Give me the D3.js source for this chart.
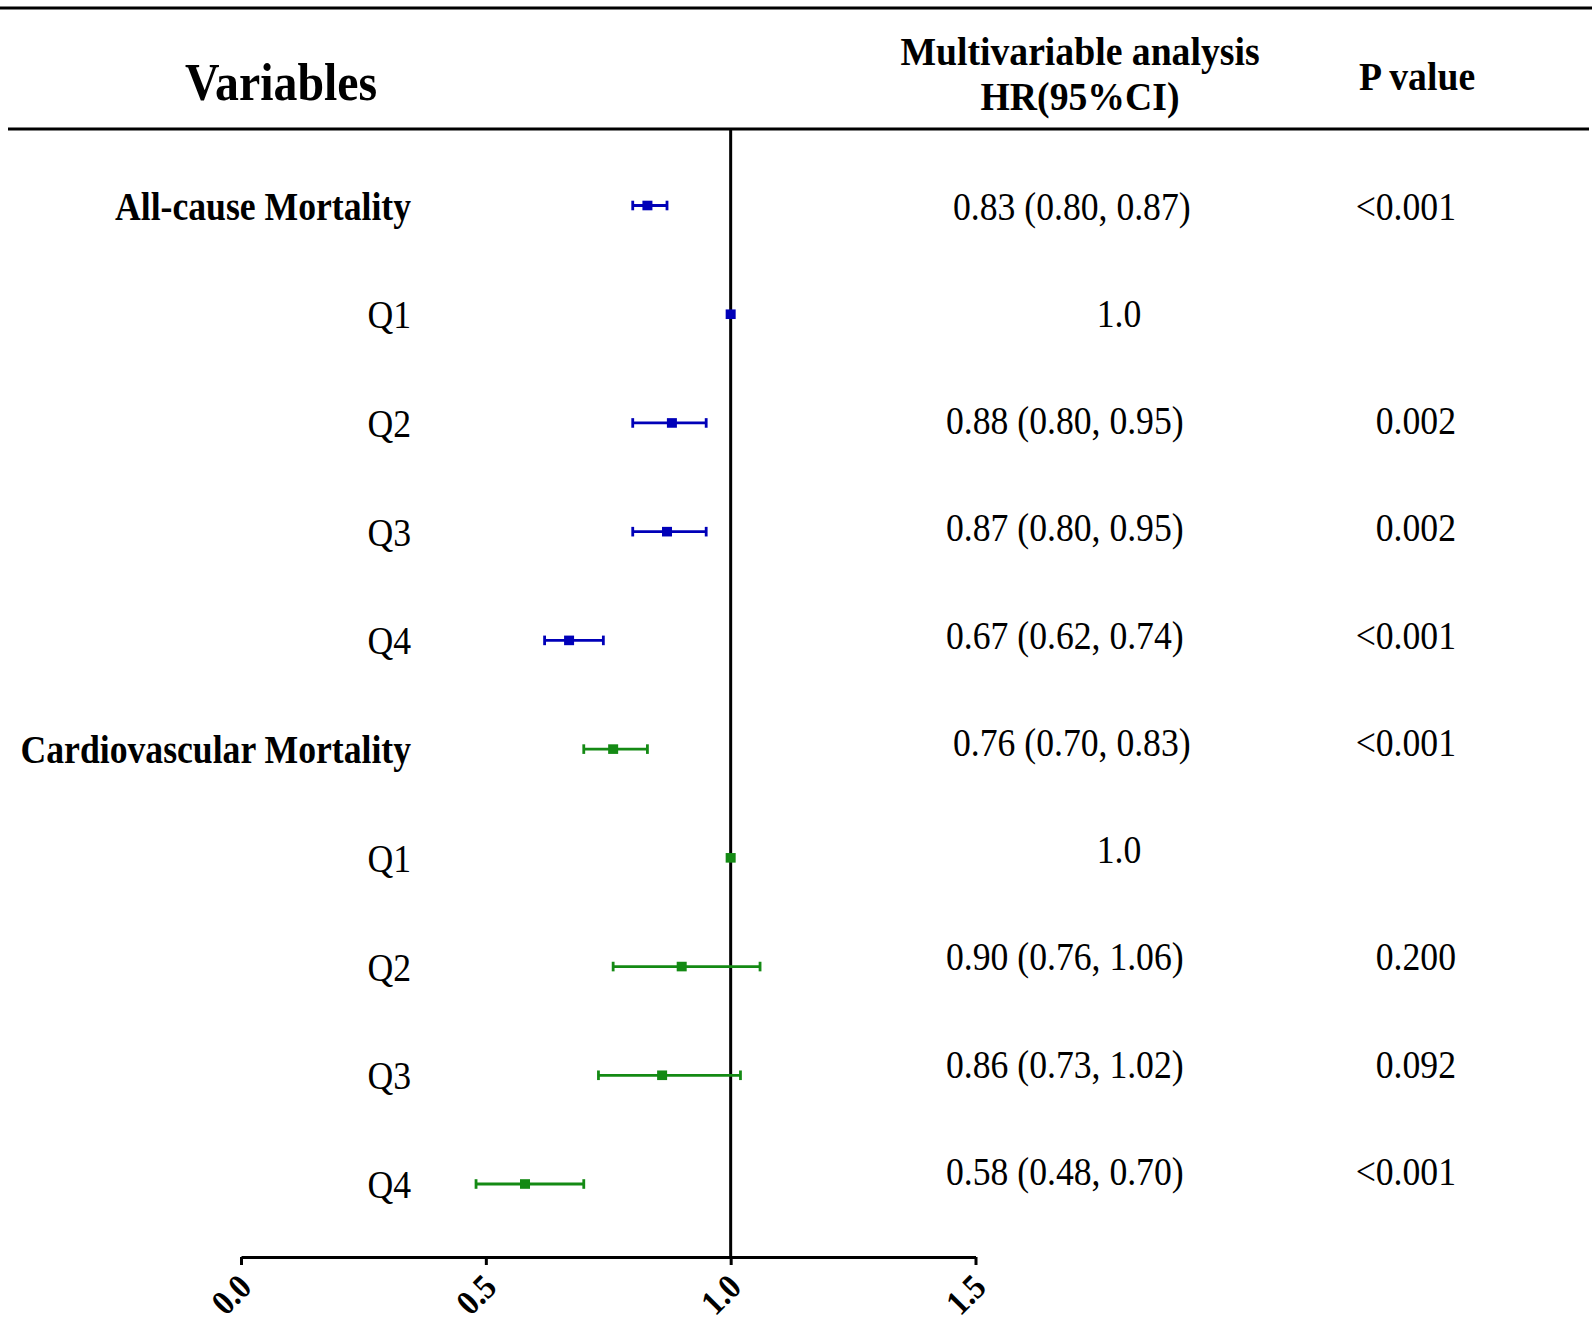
<!DOCTYPE html>
<html>
<head>
  <meta charset='utf-8'>
  <title>Forest plot</title>
  <style type='text/css'>
html, body{
  margin:0;
  padding:0;
  background:#fff;
  overflow:hidden;
}
svg{
  display:block;
}
text{
  font-family: 'Liberation Serif', 'Times New Roman', serif;
  fill:#000;
}
  </style>
</head>
<body>
<div id='chartContainer'></div>
<script src='https://d3js.org/d3.v7.min.js'></script>
<script type='text/javascript'>

// Data //
var labels = ['All-cause Mortality', 'Q1', 'Q2', 'Q3', 'Q4',
              'Cardiovascular Mortality', 'Q1', 'Q2', 'Q3', 'Q4'];
var isHeader = [true, false, false, false, false, true, false, false, false, false];
var groups = ['all', 'all', 'all', 'all', 'all', 'cv', 'cv', 'cv', 'cv', 'cv'];
var hr    = [0.83, 1.00, 0.88, 0.87, 0.67, 0.76, 1.00, 0.90, 0.86, 0.58];
var lower = [0.80, 1.00, 0.80, 0.80, 0.62, 0.70, 1.00, 0.76, 0.73, 0.48];
var upper = [0.87, 1.00, 0.95, 0.95, 0.74, 0.83, 1.00, 1.06, 1.02, 0.70];
var hrText = ['0.83 (0.80, 0.87)', '1.0', '0.88 (0.80, 0.95)', '0.87 (0.80, 0.95)',
              '0.67 (0.62, 0.74)', '0.76 (0.70, 0.83)', '1.0', '0.90 (0.76, 1.06)',
              '0.86 (0.73, 1.02)', '0.58 (0.48, 0.70)'];
var pText = ['<0.001', '', '0.002', '0.002', '<0.001', '<0.001', '', '0.200', '0.092', '<0.001'];
var xTicks = [0, 0.5, 1.0, 1.5];

var colors = {all: '#0000b8', cv: '#148a14'};
var squeeze = 0.87;   // the original type is a bit condensed

var W = 1595, H = 1326;
var axisY = 1257;
var svg = d3.select('#chartContainer').append('svg')
    .attr('width', W).attr('height', H);

var rows = d3.range(labels.length);
var x = d3.scaleLinear().domain([0, 1.5]).range([241, 975.5]);
var y = d3.scalePoint().domain(rows).range([205.5, 1184]);
// the text table on the right is spaced a little tighter
var yt = d3.scalePoint().domain(rows).range([205.5, 1171]);

function addText(g, tx, ty, str, size, weight, anchor, sx){
  return g.append('text')
    .attr('transform', 'translate(' + tx + ',' + ty + ') scale(' + (sx || squeeze) + ',1)')
    .style('font-size', size + 'px')
    .style('font-weight', weight)
    .style('text-anchor', anchor)
    .text(str);
}

// table rules
svg.append('line').attr('x1', 0).attr('x2', 1592).attr('y1', 8).attr('y2', 8)
   .attr('stroke', '#000').attr('stroke-width', 3);
svg.append('line').attr('x1', 8).attr('x2', 1589).attr('y1', 129).attr('y2', 129)
   .attr('stroke', '#000').attr('stroke-width', 3);

// header
addText(svg, 281, 100, 'Variables', 52, 'bold', 'middle', 0.92);
addText(svg, 1080, 65, 'Multivariable analysis', 41, 'bold', 'middle', 0.92);
addText(svg, 1080, 110, 'HR(95%CI)', 41, 'bold', 'middle', 0.92);
addText(svg, 1417, 90, 'P value', 41, 'bold', 'middle', 0.92);

// reference line at HR = 1
svg.append('line')
   .attr('x1', x(1)).attr('x2', x(1)).attr('y1', 129).attr('y2', axisY)
   .attr('stroke', '#000').attr('stroke-width', 3);

// x axis
var xAxis = d3.axisBottom(x).tickValues(xTicks).tickSize(8).tickSizeOuter(0)
    .tickFormat(d3.format('.1f'));
var gx = svg.append('g').attr('transform', 'translate(0,' + axisY + ')').call(xAxis);
gx.select('.domain').attr('stroke', '#000').attr('stroke-width', 3);
gx.selectAll('.tick line').attr('stroke', '#000').attr('stroke-width', 3);
gx.selectAll('.tick text')
  .attr('y', 0).attr('dy', 0)
  .attr('transform', 'translate(12,32) rotate(-45) scale(0.9,1)')
  .style('text-anchor', 'end')
  .style('font-family', "'Liberation Serif', serif")
  .style('font-size', '35px')
  .style('font-weight', 'bold');

// row labels
var gl = svg.append('g');
rows.forEach(function(i){
  addText(gl, 411, y(i) + 14, labels[i], 41, isHeader[i] ? 'bold' : 'normal', 'end');
});

// error bars
var gb = svg.append('g');
rows.forEach(function(i){
  var c = colors[groups[i]];
  if (upper[i] > lower[i]) {
    gb.append('line')
      .attr('x1', x(lower[i])).attr('x2', x(upper[i]))
      .attr('y1', y(i)).attr('y2', y(i))
      .attr('stroke', c).attr('stroke-width', 2.8);
    [lower[i], upper[i]].forEach(function(v){
      gb.append('line')
        .attr('x1', x(v)).attr('x2', x(v))
        .attr('y1', y(i) - 4.8).attr('y2', y(i) + 4.8)
        .attr('stroke', c).attr('stroke-width', 2.8);
    });
  }
  gb.append('rect')
    .attr('x', x(hr[i]) - 5).attr('y', y(i) - 4.8)
    .attr('width', 10).attr('height', 9.6)
    .attr('fill', c);
});

// HR and P value columns
var gt = svg.append('g');
rows.forEach(function(i){
  if (hrText[i] === '1.0') {
    addText(gt, 1119, yt(i) + 14, hrText[i], 41, 'normal', 'middle');
  } else {
    addText(gt, isHeader[i] ? 953 : 946, yt(i) + 14, hrText[i], 41, 'normal', 'start');
  }
  if (pText[i]) {
    addText(gt, 1456, yt(i) + 14, pText[i], 41, 'normal', 'end');
  }
});

</script>
</body>
</html>
